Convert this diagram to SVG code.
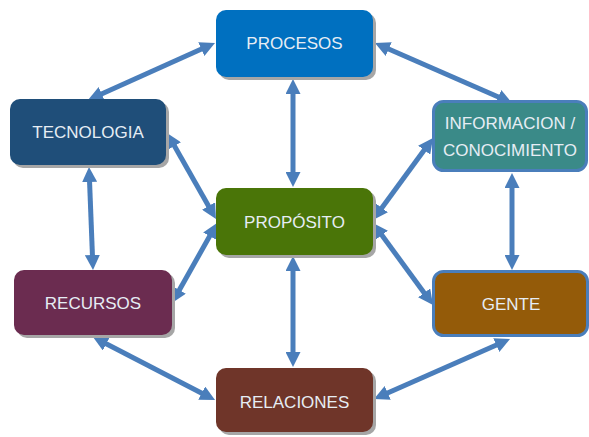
<svg xmlns="http://www.w3.org/2000/svg" width="589" height="437" viewBox="0 0 589 437">
<style>
.sh{fill:#a6a6a6}
.lbl{font-family:"Liberation Sans",Arial,sans-serif;font-size:17px;fill:#e6edf4;text-anchor:middle;dominant-baseline:central}
.c{stroke:#4a7ebb;stroke-width:5;fill:none;marker-start:url(#ah);marker-end:url(#ah)}
</style>
<defs>
<marker id="ah" viewBox="0 0 10 10" markerWidth="3" markerHeight="3" refX="3" refY="5" orient="auto-start-reverse">
<path d="M0,0 L10,5 L0,10 z" fill="#4a7ebb"/>
</marker>
</defs>
<rect width="589" height="437" fill="#ffffff"/>
<g id="connectors">
<line class="c" x1="205.4" y1="47.3" x2="97.6" y2="95.7"/>
<line class="c" x1="384.6" y1="47.2" x2="502.4" y2="98.8"/>
<line class="c" x1="293" y1="89.5" x2="293" y2="176.5"/>
<line class="c" x1="172.2" y1="142.1" x2="210.8" y2="209.9"/>
<line class="c" x1="89.4" y1="177.5" x2="92.6" y2="259.5"/>
<line class="c" x1="426.8" y1="146.5" x2="379.2" y2="211.5"/>
<line class="c" x1="512" y1="183.5" x2="512" y2="259.5"/>
<line class="c" x1="211.9" y1="232.2" x2="177.1" y2="293.9"/>
<line class="c" x1="379.2" y1="231.5" x2="426.8" y2="296.5"/>
<line class="c" x1="293" y1="266.5" x2="293" y2="356.5"/>
<line class="c" x1="102.3" y1="341.8" x2="205.7" y2="395.2"/>
<line class="c" x1="500.4" y1="343.2" x2="383.6" y2="394.8"/>
</g>
<g id="procesos">
<rect class="sh" x="219" y="13" width="157" height="67" rx="10"/>
<rect x="216" y="10" width="157" height="67" rx="10" fill="#0070c0"/>
<text class="lbl" x="294.5" y="43.5">PROCESOS</text>
</g>
<g id="tecnologia">
<rect class="sh" x="13" y="102" width="156" height="66" rx="10"/>
<rect x="10" y="99" width="156" height="66" rx="10" fill="#1f4e79"/>
<text class="lbl" x="88" y="132">TECNOLOGIA</text>
</g>
<g id="informacion">
<rect x="433.5" y="101.5" width="153" height="69" rx="10" fill="#3a8a88" stroke="#4a7ebb" stroke-width="3"/>
<text class="lbl" x="510" y="123">INFORMACION /</text>
<text class="lbl" x="510" y="150">CONOCIMIENTO</text>
</g>
<g id="proposito">
<rect class="sh" x="219" y="191" width="157" height="67" rx="10"/>
<rect x="216" y="188" width="157" height="67" rx="10" fill="#4a7508"/>
<text class="lbl" x="294.5" y="222">PROPÓSITO</text>
</g>
<g id="recursos">
<rect class="sh" x="17" y="273" width="158" height="65" rx="10"/>
<rect x="14" y="270" width="158" height="65" rx="10" fill="#6b2c50"/>
<text class="lbl" x="93" y="303">RECURSOS</text>
</g>
<g id="gente">
<rect x="433.5" y="271.5" width="154" height="64" rx="10" fill="#945b09" stroke="#4a7ebb" stroke-width="3"/>
<text class="lbl" x="511" y="304">GENTE</text>
</g>
<g id="relaciones">
<rect class="sh" x="219" y="371" width="157" height="64" rx="10"/>
<rect x="216" y="368" width="157" height="64" rx="10" fill="#6f3529"/>
<text class="lbl" x="294.5" y="402">RELACIONES</text>
</g>
</svg>
